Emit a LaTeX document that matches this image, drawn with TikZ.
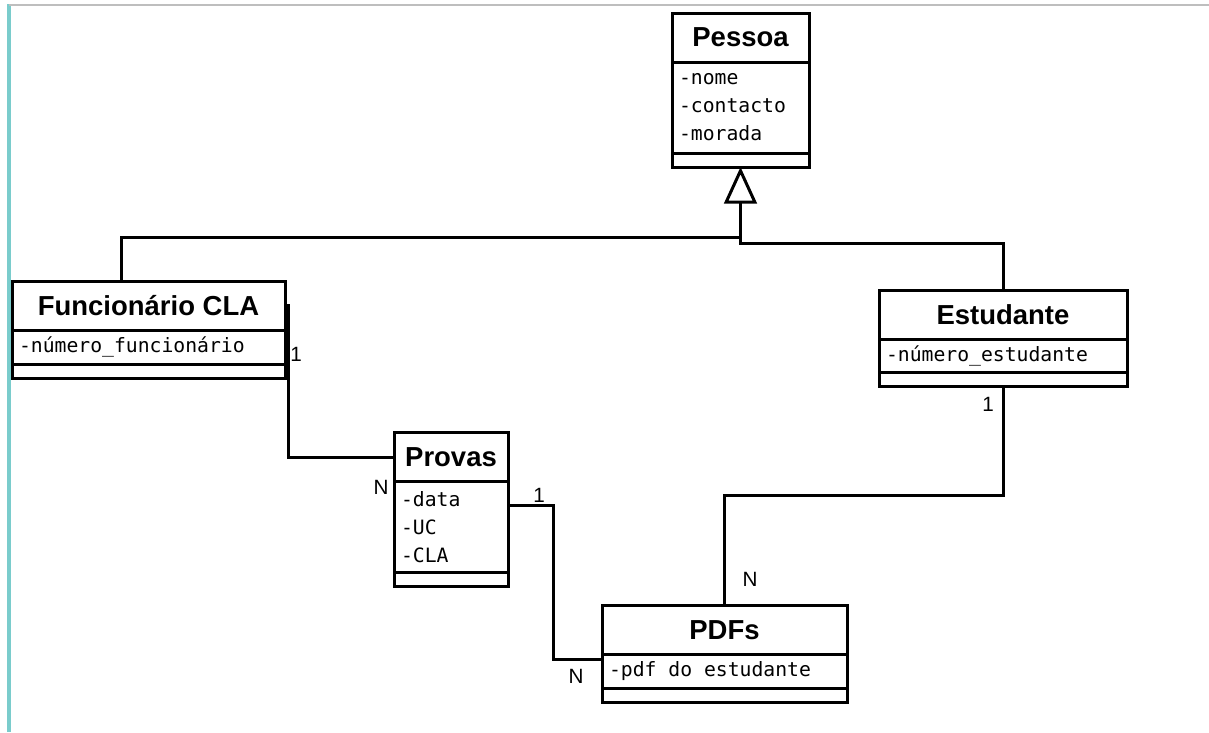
\documentclass[tikz,border=0pt]{standalone}
\usepackage{fontspec}
\setmainfont{Liberation Sans}
\setmonofont{DejaVu Sans Mono}
\usetikzlibrary{arrows.meta,calc}

\definecolor{frameteal}{RGB}{122,204,204}
\definecolor{framegrey}{RGB}{190,190,190}

% monospace attributes, and a space as wide as one character
\newcommand\attrfont{\ttfamily\fontsize{14.8}{21}\selectfont}
\newcommand\attrsp{\hspace{8.9pt}}

\tikzset{
    classtitle/.style={draw, line width=2.25pt, inner sep=0pt, outer sep=0pt, minimum height=36.75pt, font=\fontsize{20.6}{24}\selectfont\bfseries},
    classattr/.style={draw, line width=2.25pt, inner xsep=5.25pt, inner ysep=0pt, outer sep=0pt, align=left, font=\attrfont},
    classops/.style={draw, line width=2.25pt, inner sep=0pt, outer sep=0pt, minimum height=10.5pt},
    link/.style={line width=2.25pt, line cap=rect},
    inherit/.style={line width=2.25pt, -{Triangle[open, length=27.5pt, width=24.5pt]}},
    mult/.style={inner sep=0pt, font=\fontsize{15.5}{18}\selectfont},
}

\begin{document}
\begin{tikzpicture}[x=0.75pt,y=0.75pt,yscale=-1,xscale=1]
        \useasboundingbox (0,0) rectangle (1209,732);
        % window frame
        \draw [line width=3pt, color=frameteal] (9,4) -- (9,732);
        \draw [line width=1.5pt, color=framegrey] (9,5) -- (1209,5);

        % Pessoa
        \node [classtitle, minimum width=102.75pt] (pessoa) at (740.5,37.5) {Pessoa};
        \node [classattr, text width=92.25pt, minimum height=68.25pt, anchor=north] (pessoa attr) at (pessoa.south) {-nome\\-contacto\\-morada};
        \node [classops, minimum width=102.75pt, anchor=north] (pessoa ops) at (pessoa attr.south) {};

        % Funcionario CLA
        \node [classtitle, minimum width=204.75pt] (funcionario) at (148.5,305.5) {Funcionário CLA};
        \node [classattr, text width=194.25pt, minimum height=25.5pt, anchor=north] (funcionario attr) at (funcionario.south) {-número\_funcionário};
        \node [classops, minimum width=204.75pt, anchor=north] (funcionario ops) at (funcionario attr.south) {};

        % Estudante
        \node [classtitle, minimum width=186pt] (estudante) at (1003,314.5) {Estudante};
        \node [classattr, text width=175.5pt, minimum height=24.75pt, anchor=north] (estudante attr) at (estudante.south) {-número\_estudante};
        \node [classops, minimum width=186pt, anchor=north] (estudante ops) at (estudante attr.south) {};

        % Provas
        \node [classtitle, minimum width=85.5pt] (provas) at (451,457) {Provas};
        \node [classattr, text width=75pt, minimum height=68.25pt, anchor=north] (provas attr) at (provas.south) {-data\\-UC\\-CLA};
        \node [classops, minimum width=85.5pt, anchor=north] (provas ops) at (provas attr.south) {};

        % PDFs
        \node [classtitle, minimum width=183.75pt] (pdfs) at (724.5,630) {PDFs};
        \node [classattr, text width=173.25pt, minimum height=25.5pt, anchor=north] (pdfs attr) at (pdfs.south) {-pdf\attrsp do\attrsp estudante};
        \node [classops, minimum width=183.75pt, anchor=north] (pdfs ops) at (pdfs attr.south) {};

        % generalisation
        \coordinate (fork left) at (740.5,237);
        \coordinate (fork right) at (740.5,243);
        \draw [link] (funcionario.north west) ++(109,0) |- (fork left);
        \draw [link] (estudante.north) |- (fork right) -- (fork left);
        \draw [inherit] (fork left) -- (pessoa ops.south);

        % associations
        \coordinate (provas out) at ($(provas attr.north east)+(0,24)$);
        \coordinate (pdfs in) at ($(pdfs attr.north west)+(0,5)$);
        \draw [link] (funcionario.east) -- ++(3,0) |- (provas.west);
        \draw [link] (provas out) -- ++(45,0) |- (pdfs in);
        \draw [link] (estudante ops.south) -- ++(0,109) -| (pdfs.north);

        % multiplicities
        \node [mult] (m funcionario) at (296,354) {1};
        \node [mult] (m provas in) at (381,487) {N};
        \node [mult] (m provas out) at (539,495) {1};
        \node [mult] (m pdfs left) at (576,676) {N};
        \node [mult] (m pdfs top) at (750,579) {N};
        \node [mult] (m estudante) at (988,404) {1};
    \end{tikzpicture}
\end{document}
